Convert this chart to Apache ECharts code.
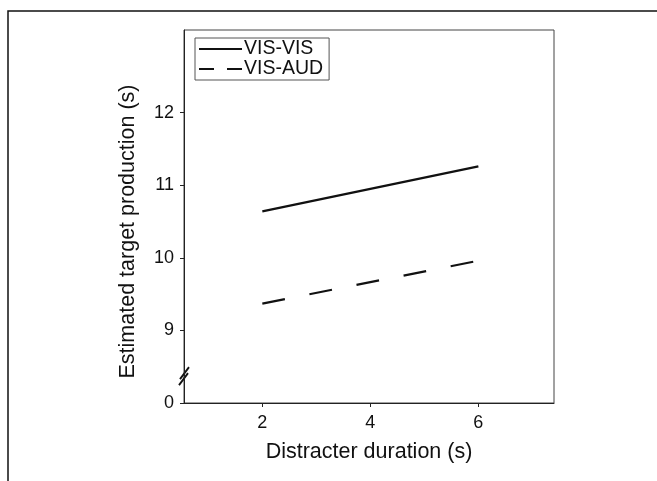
<!DOCTYPE html>
<html><head><meta charset="utf-8">
<script src="https://cdn.jsdelivr.net/npm/echarts@6/dist/echarts.min.js"></script>
<style>html,body{margin:0;padding:0;background:#fff}#c{width:657px;height:481px}</style>
</head><body><div id="c"></div>
<script>
// Data
const durations = [2, 6];
const visVis = [10.64, 11.26];
const visAud = [9.37, 9.96];
const xTicks = [2, 4, 6];
const yTicks = [8, 9, 10, 11, 12];      // 8 is shown as "0" (broken axis)
const yTickLabels = ['0', '9', '10', '11', '12'];
const seriesNames = ['VIS-VIS', 'VIS-AUD'];

const FONT = 'Liberation Sans, Arial, sans-serif';
const chart = echarts.init(document.getElementById('c'), null, {renderer: 'canvas'});
const pairs = (ys) => durations.map((d, i) => [d, ys[i]]);

chart.setOption({
  animation: false,
  backgroundColor: '#fff',
  grid: {left: 184, right: 103, top: 30, bottom: 78, show: true, borderColor: '#444', borderWidth: 1, backgroundColor: 'transparent'},
  legend: {
    orient: 'vertical', left: 195, top: 38,
    borderColor: '#555', borderWidth: 1, borderRadius: 0,
    padding: [1, 6, 1, 4], itemWidth: 43, itemHeight: 2, itemGap: 0,
    textStyle: {fontFamily: FONT, fontSize: 19.5, lineHeight: 16, color: '#111', padding: [0, 0, 0, -3]},
    data: [
      {name: seriesNames[0], icon: 'path://M0,0H43V2H0Z', itemStyle: {color: '#111'}},
      {name: seriesNames[1], icon: 'path://M0,0H15V2H0Z M28,0H43V2H28Z', itemStyle: {color: '#111'}}
    ]
  },
  xAxis: {
    type: 'value', min: 0.55, max: 7.4,
    name: 'Distracter duration (s)', nameLocation: 'middle', nameGap: 38,
    nameTextStyle: {fontFamily: FONT, fontSize: 21.5, color: '#111'},
    axisLine: {show: true, onZero: false, lineStyle: {color: '#222', width: 1}},
    axisTick: {show: true, inside: false, length: 4, customValues: xTicks, lineStyle: {color: '#222'}},
    axisLabel: {customValues: xTicks, margin: 11, fontFamily: FONT, fontSize: 18, color: '#111'},
    splitLine: {show: false}
  },
  yAxis: {
    type: 'value', min: 8, max: 13.14,
    name: 'Estimated target production (s)', nameLocation: 'middle', nameGap: 45,
    nameTextStyle: {fontFamily: FONT, fontSize: 21.5, color: '#111', padding: [0, 0, 0, -30]},
    axisLine: {show: true, onZero: false, lineStyle: {color: '#222', width: 1}},
    axisTick: {show: true, inside: false, length: 4, customValues: yTicks, lineStyle: {color: '#222'}},
    axisLabel: {customValues: yTicks, margin: 10, fontFamily: FONT, fontSize: 18, color: '#111',
      formatter: (v) => { const i = yTicks.indexOf(v); return i >= 0 ? yTickLabels[i] : ''; }},
    splitLine: {show: false}
  },
  series: [
    {name: seriesNames[0], type: 'line', data: pairs(visVis), symbol: 'none',
     lineStyle: {color: '#111', width: 2.2, type: 'solid'}, itemStyle: {color: '#111'}},
    {name: seriesNames[1], type: 'line', data: pairs(visAud), symbol: 'none',
     lineStyle: {color: '#111', width: 2.2, type: [23, 25]}, itemStyle: {color: '#111'}}
  ]
});

// axis-break marks placed via the axis scale
const bx = chart.convertToPixel({xAxisIndex: 0}, 0.55);
const by = chart.convertToPixel({yAxisIndex: 0}, 8.37);
chart.setOption({
  graphic: [
    {type: 'polyline', silent: true, shape: {points: [[8, 481], [8, 11], [657, 11]]},
     style: {stroke: '#111', lineWidth: 1.5, fill: null}},
    {type: 'line', silent: true, shape: {x1: bx - 5, y1: by + 9, x2: bx + 4, y2: by - 3}, style: {stroke: '#111', lineWidth: 1.8}},
    {type: 'line', silent: true, shape: {x1: bx - 4, y1: by + 3, x2: bx + 5, y2: by - 9}, style: {stroke: '#111', lineWidth: 1.8}}
  ]
});
</script></body></html>
